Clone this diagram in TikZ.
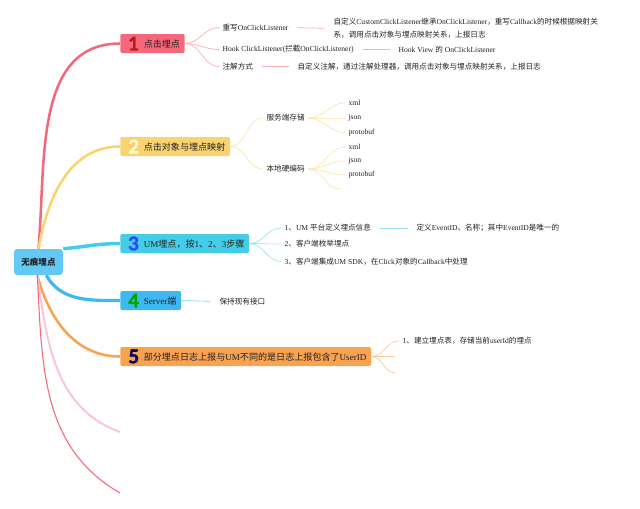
\documentclass[tikz,border=0pt]{standalone}
\usepackage{fontspec}
\setmainfont{Liberation Serif}
\newfontfamily\cjkfont{Noto Sans CJK SC}
\newfontfamily\numfont{Lato}[BoldFeatures={FakeBold=2}]
\usetikzlibrary{positioning}

% Chinese characters are set in the CJK font, the rest in the serif
\XeTeXinterchartokenstate=1
\newXeTeXintercharclass\cjkclass
\newcount\cjkchar
\def\setcjkrange#1#2{%
  \cjkchar=#1
  \loop
    \XeTeXcharclass\cjkchar=\cjkclass
    \advance\cjkchar by 1
  \ifnum\cjkchar<#2 \repeat}
\setcjkrange{"3000}{"3040}
\setcjkrange{"4E00}{"A000}
\setcjkrange{"FF00}{"FFF0}
\XeTeXinterchartoks 0 \cjkclass = {\cjkfont}
\XeTeXinterchartoks 4095 \cjkclass = {\cjkfont}
\XeTeXinterchartoks \cjkclass 0 = {\rmfamily}
\XeTeXinterchartoks \cjkclass 4095 = {\rmfamily}

\newcommand\bignum[2]{\hspace{2.5pt}\raisebox{-2.2pt}{\numfont\bfseries\fontsize{14}{14}\selectfont\color{#1}#2}\hspace{3.5pt}}

\begin{document}
\begin{tikzpicture}[
    x=0.75pt, y=-0.75pt,
    every node/.style={font=\fontsize{5.7}{7}\selectfont, text=ink},
    box/.style={anchor=west, rounded corners=1.5pt, minimum height=14.25pt,
        inner xsep=3.5pt, inner ysep=0pt, font=\fontsize{6.8}{8}\selectfont},
    leaf/.style={anchor=west, inner xsep=2.5pt, inner ysep=1pt},
    fan/.style={line width=0.5pt},
    link/.style={line width=0.5pt, shorten <=4pt, shorten >=4pt},
]

\definecolor{ink}{HTML}{222222}
\definecolor{c1}{HTML}{F5677A}   % click tracking
\definecolor{c2}{HTML}{F9D271}   % object mapping
\definecolor{c3}{HTML}{43CDE6}   % UM steps
\definecolor{c4}{HTML}{3DB8F2}   % server
\definecolor{c5}{HTML}{F9A351}   % user id
\definecolor{c6}{HTML}{FDC3DB}
\definecolor{rootcol}{HTML}{62C8F4}

\useasboundingbox (0,0) rectangle (640,508);

% ---------------------------------------------------------------- root
\node[rounded corners=2.5pt, fill=rootcol, minimum width=36.75pt,
    minimum height=19.5pt, inner sep=0pt,
    font=\fontsize{6.4}{8}\selectfont\bfseries] (root) at (38.5,262) {无痕埋点};

% ---------------------------------------------------------------- branches
\node[box, fill=c1] (b1) at (120,43.5) {\bignum{red!70!black!90!white}{1}点击埋点};
\node[box, fill=c2] (b2) at (120,146.5) {\bignum{c2!35!yellow!25!white}{2}点击对象与埋点映射};
\node[box, fill=c3] (b3) at (120,243.5) {\bignum{c3!20!blue!85!white}{3}UM埋点，按1、2、3步骤};
\node[box, fill=c4] (b4) at (120,300.5) {\bignum{green!65!black}{4}Server端};
\node[box, fill=c5] (b5) at (120,356.5) {\bignum{blue!40!black}{5}部分埋点日志上报与UM不同的是日志上报包含了UserID};
\coordinate (e6) at (120,432);
\coordinate (e7) at (120,493);

\foreach \from/\dest/\col/\lw/\o/\i in {%
    root.north/b1.west/c1/1.9/85/180,
    root.north/b2.west/c2/1.9/80/180,
    root.north east/b3.west/c3/2.6/5/180,
    root.-60/b4.west/c4/2.4/-60/180,
    root.-95/b5.west/c5/1.9/-75/180,
    root.-95/e6/c6/1.5/-82/160,
    root.-95/e7/c1/0.8/-87/150}
  \draw[\col, line width=\lw pt] (\from) to[out=\o, in=\i] (\dest);

% ---------------------------------------------------------------- 1
\node[leaf] (r1) at (219,27.5) {重写OnClickListener};
\node[leaf] (h1) at (219,49.5) {Hook ClickListener(拦截OnClickListener)};
\node[leaf] (a1) at (219,66.5) {注解方式};
\node[leaf, align=left, font=\fontsize{5.7}{9.75}\selectfont] (r1d) at (330,28.5)
    {自定义CustomClickListener继承OnClickListener，重写Callback的时候根据映射关\\
     系，调用点击对象与埋点映射关系，上报日志};
\node[leaf] (h1d) at (395,49.5) {Hook View 的 OnClickListener};
\node[leaf] (a1d) at (294,66.5) {自定义注解，通过注解处理器，调用点击对象与埋点映射关系，上报日志};

\foreach \kid in {r1, h1, a1}
  \draw[fan, c1!55!white] (b1.east) to[out=0, in=180] (\kid.west);
\foreach \kid in {r1, h1, a1}
  \draw[link, c1!55!white] (\kid.east) -- (\kid d.west);

% ---------------------------------------------------------------- 2
\node[leaf] (s2) at (263,118) {服务端存储};
\node[leaf] (l2) at (263,169) {本地硬编码};
\foreach \kid in {s2, l2}
  \draw[fan, c2!60!white] (b2.east) to[out=0, in=180] (\kid.west);

\foreach \up/\y/\lbl in {s2/103/xml, s2/118/json, s2/132.5/protobuf,
    l2/147/xml, l2/161/json, l2/175/protobuf} {
  \node[leaf] (\up\lbl) at (345,\y) {\lbl};
  \draw[fan, c2!60!white] (\up.east) to[out=0, in=180] (\up\lbl.west);
}
\coordinate (l2end) at (340,189);
\draw[fan, c2!60!white] (l2.east) to[out=0, in=180] (l2end);

% ---------------------------------------------------------------- 3
\node[leaf] (u1) at (281,228) {1、UM 平台定义埋点信息};
\node[leaf] (u2) at (281,244) {2、客户端枚举埋点};
\node[leaf] (u3) at (281,261.5) {3、客户端集成UM SDK，在Click对象的Callback中处理};
\node[leaf] (u1d) at (413,228) {定义EventID、名称；其中EventID是唯一的};
\foreach \kid in {u1, u2, u3}
  \draw[fan, c3!55!white] (b3.east) to[out=0, in=180] (\kid.west);
\draw[link, c3!55!white] (u1.east) -- (u1d.west);

% ---------------------------------------------------------------- 4
\node[leaf] (k4) at (216,301.5) {保持现有接口};
\draw[fan, c4!60!white, shorten >=4pt] (b4.east) -- (k4.west);

% ---------------------------------------------------------------- 5
\node[leaf] (t5) at (399,341) {1、建立埋点表，存储当前userId的埋点};
\coordinate (t5b) at (395,356.5);
\coordinate (t5c) at (395,373);
\foreach \kid in {t5.west, t5b, t5c}
  \draw[fan, c5!60!white] (b5.east) to[out=0, in=180] (\kid);

\end{tikzpicture}
\end{document}
